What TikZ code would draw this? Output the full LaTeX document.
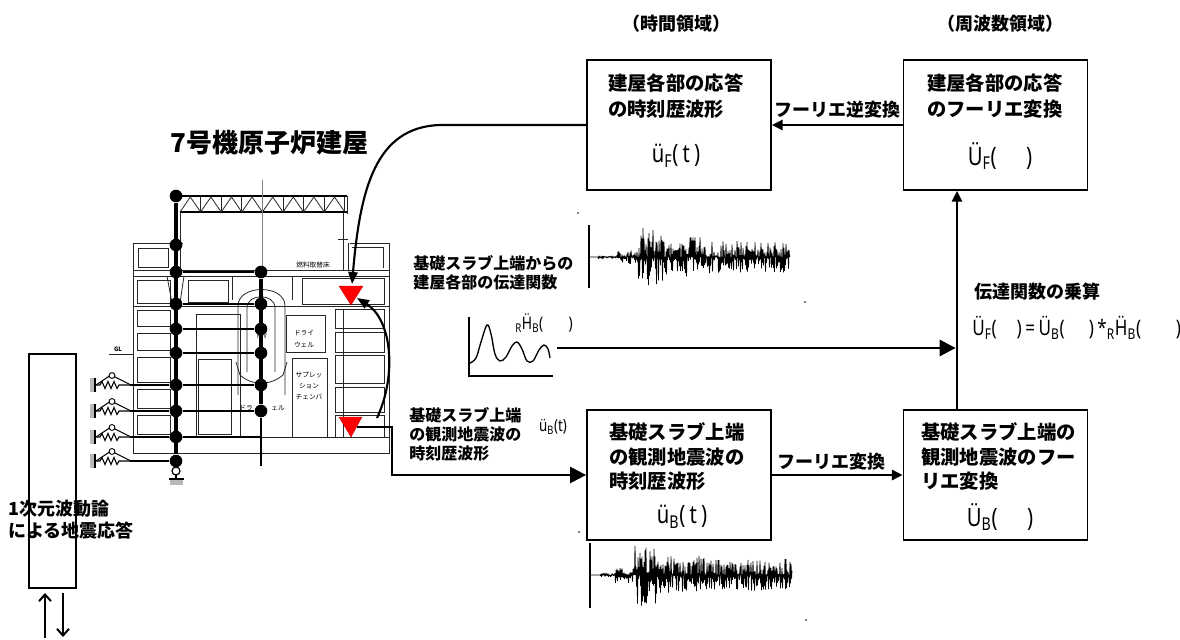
\documentclass[tikz,border=0pt]{standalone}
\usepackage{fontspec}
\setmainfont{Noto Sans CJK JP}
\newfontfamily\lat{Noto Sans}[FakeStretch=0.8]
\usetikzlibrary{arrows.meta}
\newcommand\sbs[1]{\textsubscript{#1}}
\newcommand\springat[1]{%
  \fill[gray!55] (90,{#1-7}) rectangle (95,{#1+7});
  \draw[line width=0.8pt] (95,{#1-7}) -- (95,{#1+7});
  \draw[line width=0.8pt] (95,#1) -- (100,#1) -- (102,{#1-3.5}) -- (105,{#1+3.5}) -- (108,{#1-3.5}) -- (111,{#1+3.5}) -- (114,{#1-3.5}) -- (117,{#1+3.5}) -- (119,#1) -- (130,#1);
  \draw[line width=0.8pt] (96,#1) -- (111,{#1-10}) -- (131,#1);
  \draw[line width=0.7pt, fill=white] (112,{#1-9.5}) circle (2.2pt);
}
\begin{document}
\begin{tikzpicture}[x=0.75pt,y=-0.75pt,
 declare function={envA(\t)=(\t<40)?2:((\t<80)?7:((\t<135)?30:((\t<210)?20:16)));
                   envB(\t)=(\t<30)?2:((\t<70)?8:((\t<120)?31:((\t<210)?19:16)));},
 box/.style={draw, line width=1.3pt, minimum width=138pt, minimum height=97.5pt, inner sep=0pt},
 bt/.style={font=\bfseries\fontsize{14.5}{17}\selectfont, anchor=base west, inner sep=0pt},
 fm/.style={font=\lat\fontsize{19}{22}\selectfont, inner sep=0pt},
 hdr/.style={font=\bfseries\fontsize{13.5}{16}\selectfont, anchor=base, inner sep=0pt},
 lbl/.style={font=\bfseries\fontsize{13.5}{16}\selectfont, inner sep=0pt},
 smtxt/.style={font=\bfseries\fontsize{12}{14}\selectfont, anchor=base west, inner sep=0pt},
 tinytxt/.style={font=\fontsize{5}{6}\selectfont, inner sep=0pt},
 bl/.style={line width=0.6pt, black!85},
 colm/.style={line width=3pt},
 lnk/.style={line width=2pt},
 dot/.style={circle, fill=black, inner sep=0pt, minimum size=9.5pt},
 tri/.style={fill=red, draw=red!80!black, line width=0.3pt},
 arrS/.style={-{Triangle[length=8pt,width=7.5pt]}},
 arrB/.style={-{Triangle[length=12pt,width=12pt]}},
 arrC/.style={-{Triangle[length=9pt,width=7pt]}},
 wave/.style={line width=0.6pt, line join=bevel},
]
\useasboundingbox (0,0) rectangle (1180,639);

% ---------------- headers
\node[hdr] (h1) at (676,31) {（時間領域）};
\node[hdr] (h2) at (1000,31) {（周波数領域）};

% ---------------- boxes
\node[box] (Ft) at (679,125) {};
\node[box] (UF) at (995.5,125) {};
\node[box] (Bt) at (679,475) {};
\node[box] (UB) at (995.5,475) {};

\node[bt] (ft1) at (608,90.5) {建屋各部の応答};
\node[bt] (ft2) at (608,116.5) {の時刻歴波形};
\node[fm] (ft3) at (676,156) {ü\sbs{F}(\,t\,)};

\node[bt] (uf1) at (927,90.5) {建屋各部の応答};
\node[bt] (uf2) at (927,116.5) {のフーリエ変換};
\node[fm] (uf3) at (1000,156) {Ü\sbs{F}(\hspace{22pt})};

\node[bt] (bt1) at (609,439) {基礎スラブ上端};
\node[bt] (bt2) at (609,464) {の観測地震波の};
\node[bt] (bt3) at (609,488) {時刻歴波形};
\node[fm] (bt4) at (682,517) {ü\sbs{B}(\,t\,)};

\node[bt] (ub1) at (921,439) {基礎スラブ上端の};
\node[bt] (ub2) at (921,464) {観測地震波のフー};
\node[bt] (ub3) at (921,488) {リエ変換};
\node[fm] (ub4) at (1000,517) {Ü\sbs{B}(\hspace{22pt})};

% ---------------- box connectors
\draw[arrS, line width=2pt] (UF.west) -- (Ft.east);
\node[lbl] (l1) at (837,110) {フーリエ逆変換};
\draw[arrS, line width=2.2pt] (Bt.east) -- (UB.west);
\node[lbl] (l2) at (831,462) {フーリエ変換};
\coordinate (vx) at (957,300);
\draw[arrS, line width=1.6pt] (UB.north -| vx) -- (UF.south -| vx);
\node[lbl, anchor=base west] (l3) at (974,298.5) {伝達関数の乗算};
\node[font=\lat\fontsize{16}{18}\selectfont, inner sep=0pt, anchor=west] (l4) at (972,328)
  {Ü\sbs{F}(\hspace{15pt})\,=\,Ü\sbs{B}(\hspace{18pt})\,*\sbs{R}Ḧ\sbs{B}(\hspace{26pt})};

% ---------------- transfer function graph
\draw[line width=1pt] (469,317) -- (469,376) -- (553,376);
\draw[line width=1pt] plot[smooth, tension=0.6] coordinates {(470,363) (476,358) (481,342) (487,325) (491,334) (495,354) (500,361) (506,357) (512,346) (517,342) (522,349) (527,361) (533,361) (539,350) (544,345) (548,349) (550,358)};
\node[font=\lat\fontsize{13}{15}\selectfont, inner sep=0pt, anchor=west] (hb) at (515,323) {\sbs{R}Ḧ\sbs{B}(\hspace{19pt})};
\coordinate (tfend) at (557,348);
\draw[arrB, line width=2pt, shorten >=1pt] (tfend) -- (vx |- tfend);

\node[smtxt] (tf1) at (413,269) {基礎スラブ上端からの};
\node[smtxt] (tf2) at (413,288) {建屋各部の伝達関数};

% ---------------- waveforms
\draw[line width=0.9pt] (589,225) -- (589,288);
\pgfmathsetseed{11}
\draw[wave] (589,257) -- (598,257) \foreach \i in {1,...,384}{ -- ({598+0.5*\i},{257+envA(\i)*pow(rnd,1.3)*(2*mod(\i,2)-1)}) };
\draw[line width=0.9pt] (590,543) -- (590,608);
\pgfmathsetseed{23}
\draw[wave] (590,575) -- (600,575) \foreach \i in {1,...,384}{ -- ({600+0.5*\i},{575+envB(\i)*pow(rnd,1.3)*(2*mod(\i,2)-1)}) };
\fill (578,213) circle (0.7pt);
\fill (805,302) circle (0.7pt);
\fill (579,532) circle (0.7pt);
\fill (806,620) circle (0.7pt);

% ---------------- left labels
\node[smtxt] (ob1) at (409,421) {基礎スラブ上端};
\node[smtxt] (ob2) at (409,440) {の観測地震波の};
\node[smtxt] (ob3) at (409,459) {時刻歴波形};
\node[font=\lat\fontsize{12.5}{14}\selectfont, inner sep=0pt] (ob4) at (553,427) {ü\sbs{B}(t)};

\node[font=\bfseries\fontsize{19.5}{22}\selectfont, anchor=west, inner sep=0pt] (title) at (170,143) {7号機原子炉建屋};

% ---------------- 1D wave column
\node[draw, line width=0.8pt, minimum width=35.25pt, minimum height=175.5pt, inner sep=0pt] (oned) at (52.5,471) {};
\node[font=\bfseries\fontsize{13.5}{16}\selectfont, anchor=base west, inner sep=0pt] (od1) at (8,515) {1次元波動論};
\node[font=\bfseries\fontsize{13.5}{16}\selectfont, anchor=base west, inner sep=0pt] (od2) at (8,537) {による地震応答};
\coordinate (ua1) at (45,638); \coordinate (ua2) at (45,593);
\coordinate (da1) at (63,593); \coordinate (da2) at (63,637);
\draw[line width=1.5pt, -{Straight Barb[length=5pt,width=9pt]}] (ua1) -- (ua2);
\draw[line width=1.5pt, -{Straight Barb[length=5pt,width=9pt]}] (da1) -- (da2);

% ---------------- building drawing
\draw[bl] (133,243) -- (133,453) -- (389,453) -- (389,243) -- (350,243);
\draw[bl] (133,243) -- (183,243);
\draw[bl] (180,212) -- (180,270);
\draw[bl] (343,212) -- (343,270);
\draw[bl] (348,243) -- (348,270);
\draw[bl] (352,247) -- (383,247) -- (383,268);
\draw[bl] (338,239) -- (348,239);
\draw[bl] (133,270) -- (389,270);
\draw[bl] (133,276) -- (389,276);
\draw[bl] (133,306) -- (389,306);
\draw[bl] (133,437) -- (389,437);
\draw[line width=1.2pt] (176,196) -- (347,196);
\draw[line width=0.9pt] (180,212) -- (347,212);
\draw[bl] (180,212) \foreach \k in {0,...,7}{ -- ({190.3+20.6*\k},197) -- ({200.6+20.6*\k},212)};
\foreach \k in {0,...,7} \draw[bl] ({200.6+20.6*\k},197) -- ({200.6+20.6*\k},212);
\draw[bl] (347,196) -- (347,214);
\draw[gray, line width=0.5pt] (262,180) -- (262,272);
\draw[bl] (138,248) rectangle (168,267);
\foreach \a/\b in {280/303, 310/326, 333/350, 357/382, 389/408, 415/434} \draw[bl] (137,\a) rectangle (170,\b);
\draw[bl] (167,276) -- (172,303) (184,276) -- (180,303);
\draw[bl] (188,280) rectangle (228,302);
\draw[bl] (196,314) rectangle (240,436);
\draw[bl] (198,359) rectangle (231,434);
\draw[bl] (232,277) -- (232,300) (292,277) -- (292,300);
\draw[bl] (238,395) -- (238,306) .. controls (238,284) and (285,284) .. (285,306) -- (285,395);
\draw[bl] (247,372) -- (247,308) .. controls (247,293) and (275,293) .. (275,308) -- (275,372);
\draw[bl] (236,362) -- (240,375) .. controls (252,386) and (270,386) .. (283,375) -- (287,362);
\draw[bl] (286,315) rectangle (325,352);
\draw[bl] (292,358) rectangle (327,437);
\draw[bl] (302,278) rectangle (384,304);
\foreach \a/\b in {309/328, 332/352, 355/383, 387/412, 415/437} \draw[bl] (335,\a) rectangle (384,\b);
\draw[bl] (343,309) -- (343,437);
\draw[bl] (109,354) -- (133,354);
\node[tinytxt, font=\bfseries\fontsize{4.5}{5}\selectfont] (gl) at (118,349) {GL};
\node[tinytxt] (nf) at (313,265) {燃料取替床};
\node[tinytxt, font=\lat\fontsize{5}{6}\selectfont] (rpv) at (262,336) {RPV};
\node[tinytxt] (dw1) at (304,333) {ドライ};
\node[tinytxt] (dw2) at (304,345) {ウェル};
\node[tinytxt] (sc1) at (309,375) {サプレッ};
\node[tinytxt] (sc2) at (309,386) {ション};
\node[tinytxt] (sc3) at (309,397) {チェンバ};
\node[tinytxt] (ld1) at (246,408) {ドラ};
\node[tinytxt] (ld2) at (278,408) {ェル};

% stick model
\foreach \n/\y in {1/196,2/245,3/272,4/304,5/329,6/353,7/385,8/411,9/437,10/461} \node[dot] (L\n) at (176,\y) {};
\foreach \n/\y in {3/272,4/304,5/329,6/353,7/385,8/411} \node[dot] (R\n) at (261,\y) {};
\draw[colm] (L1) -- (L10);
\draw[colm] (R3) -- (R8);
\draw[line width=1.1pt] (R8) -- (261,466);
\foreach \n in {3,...,8} \draw[lnk] (L\n) -- (R\n);
\draw[line width=1.3pt] (L9) -- (261,437);
\springat{385}\springat{411}\springat{437}\springat{461}
\draw[line width=1.1pt] (130,385) -- (L7);
\draw[line width=1.1pt] (130,411) -- (L8);
\draw[line width=1.1pt] (130,437) -- (L9);
\draw[line width=1.1pt] (130,461) -- (L10);
\draw[line width=1.1pt] (L10) -- (176,467);
\draw[line width=0.9pt] (176,471) circle (3pt);
\draw[line width=0.9pt] (176,474) -- (176,479) (169,479) -- (184,479);
\fill[gray!55] (170,479.5) rectangle (183,485);

% red triangles
\path[tri] (339,286) -- (363,286) -- (351,305) -- cycle;
\path[tri] (339,417) -- (362,417) -- (351,437) -- cycle;
\coordinate (upT) at (352,284);
\coordinate (lowT) at (357,427);
\coordinate (lowS) at (377,418);
\coordinate (crn) at (392,427);
\coordinate (upK) at (440,125);
\coordinate (upS) at (357,298);

% building connectors
\draw[arrC, line width=1.6pt] (Ft.west) -- (upK) .. controls (375,127) and (360,190) .. (upT);
\draw[arrC, line width=1.6pt] (lowS) .. controls (397,375) and (392,320) .. (upS);
\draw[arrB, line width=1.7pt] (lowT) -- (crn) |- (Bt.west);
\end{tikzpicture}
\end{document}
